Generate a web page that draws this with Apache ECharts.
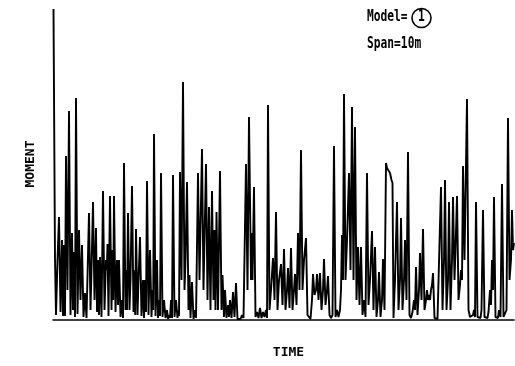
<!DOCTYPE html>
<html>
<head>
<meta charset="utf-8">
<script src="https://cdn.jsdelivr.net/npm/echarts@6/dist/echarts.min.js"></script>
<style>html,body{margin:0;padding:0;background:#fff;}#c{width:515px;height:366px;}</style>
</head>
<body>
<div id="c"></div>
<script>
// time in samples (arbitrary units), moment in arbitrary units
const times = [
0.5,2,3,4.5,6,7.5,9,10,11,12,13,14.5,16,17.5,19,20,21,22,23,24.5,26,27.5,29,30.5,32,33.5,36,37.5,38.5,40,
41.5,43,44,45,46,47,48.5,50,51.5,53,53.8,54.5,55.5,57,58.5,59.5,60.2,61,62.5,64,65,66,67.5,69,70,71,72.5,73.5,74,75,
76.5,77.5,79,80.5,81.5,82.2,83,84.5,85.5,87,88.5,90,91,92,93,94,95.5,97,98.5,99.5,100.2,101,102.5,104,105,106,107,108,109.5,111,
112.5,114,115,116,117,118,119,120,121.5,123,124.5,125,126,127,128.5,130,131.5,132.5,134,135.5,136.5,137.5,139,
140.5,142,143,145,146.5,149,150.5,153,154.5,156,157.5,159,160.5,161.5,162.5,163.5,165,167,168.5,169.5,171,172,173.5,175,176,177,178.5,180,181.5,183,
184.5,186,187.5,189,190.5,193,194.5,196,198,198.5,199.5,201,202.5,204,205.5,207,208.5,210,211.5,213,214,215,216.5,218,220,221.5,223,224.5,226,228,
229.5,231,232.5,234,235,236.5,238,239.5,241,242,243.5,245,246.5,248,249.5,251,253,254.5,256,257.5,259,260,261.5,263,264,265.5,267,268.5,270,271,
272.5,274,275,276.5,278,279.5,281,282.5,284,285.5,287,288,289,290,291,292.5,294,296,297.5,299,300.5,302,303.5,305,306.5,308,309.5,311,312.5,314,
315.5,317,319,320.5,322,323.5,325,326,327.5,329,330,331.5,333,334,335,336,337,338.5,339.5,340.5,342,344,345.5,347,348,349.5,351,352,353.5,355,
356.5,358,359.5,361,362,363,364.5,366,367,368.5,370,371.5,373,374,375,376,377,378,379,380,381.5,383,384.5,386,388,389.5,391,392,393.5,395,
396,397.5,399,400,401.5,402.5,404,405.5,407,408,409,410,411.5,414,415.5,417,418.5,420,421,422,423,424.5,426,427.5,428.5,430,431.5,433,
434.5,435.5,437,438,439,440,441,442.5,444,445,446,447.5,449,450.5,452,453.5,455,456.5,458,459,460,461
];
const moments = [
311,60,5,60,103,8,80,4,75,4,164,30,209,5,87,10,68,3,222,6,90,20,75,3,27,2,107,10,50,118,
20,92,8,60,5,63,3,129,10,60,50,76,4,124,10,70,20,124,8,60,15,60,3,20,2,157,10,50,10,107,
10,40,134,8,50,5,91,5,40,83,4,40,2,40,8,139,5,70,3,30,10,186,4,60,2,20,4,147,3,20,
2,10,1,5,2,20,2,145,3,20,2,10,4,148,40,238,30,60,138,10,45,2,38,
1,10,2,147,40,171,30,156,20,113,10,129,20,90,10,108,10,149,10,45,3,30,2,15,3,20,2,28,3,37,
1,3,1,5,2,156,30,203,40,87,40,133,3,8,2,12,2,8,3,10,2,215,10,30,62,20,108,10,40,56,
15,71,10,30,52,12,72,10,30,46,15,87,30,170,30,60,82,5,3,1,20,46,25,30,46,20,47,10,30,61,
15,30,44,5,2,5,174,3,10,3,10,30,85,40,226,40,80,147,50,213,40,193,20,73,15,73,5,20,3,147,
15,40,89,10,73,3,20,48,3,20,61,10,157,152,150,153,147,140,137,2,40,118,10,40,102,10,40,80,20,168,
5,2,8,20,10,53,5,30,67,20,91,10,20,30,20,25,20,30,35,47,2,2,1,3,133,10,60,140,10,40,
118,10,60,123,40,70,124,20,35,50,40,154,60,221,10,3,2,5,10,3,118,3,5,2,10,110,3,5,
2,8,30,15,60,30,123,3,5,2,10,3,136,3,5,10,202,40,60,110,70,77
];

const data = times.map((t, i) => [t, moments[i]]);

const chart = echarts.init(document.getElementById('c'), null, {renderer: 'canvas'});
const monoFont = '"DejaVu Sans Mono", "Liberation Mono", monospace';
chart.setOption({
  backgroundColor: '#fff',
  animation: false,
  grid: {left: 53, right: 1, top: 8, bottom: 46},
  xAxis: {
    type: 'value', min: 0, max: 461,
    name: 'TIME', nameLocation: 'middle', nameGap: 26,
    nameTextStyle: {color: '#000', fontFamily: monoFont, fontSize: 13, fontWeight: 'bold', padding: [0, 0, 0, 10]},
    axisLine: {show: true, lineStyle: {color: '#000', width: 1.5}},
    axisTick: {show: false}, axisLabel: {show: false}, splitLine: {show: false}
  },
  yAxis: {
    type: 'value', min: 0, max: 312,
    name: 'MOMENT', nameLocation: 'middle', nameGap: 16,
    nameTextStyle: {color: '#000', fontFamily: monoFont, fontSize: 13, fontWeight: 'bold'},
    axisLine: {show: false}, axisTick: {show: false}, axisLabel: {show: false}, splitLine: {show: false}
  },
  series: [{
    type: 'line', data: data, symbol: 'none',
    lineStyle: {color: '#000', width: 1.9}
  }],
  graphic: [
    {type: 'text', x: 367, y: 10, scaleX: 0.75, style: {text: 'Model=', font: 'bold 15px ' + monoFont, fill: '#000'}},
    {type: 'circle', shape: {cx: 421.5, cy: 18, r: 9.5}, style: {fill: 'none', stroke: '#000', lineWidth: 1.6}},
    {type: 'text', x: 418, y: 10, scaleX: 0.75, style: {text: '1', font: 'bold 15px ' + monoFont, fill: '#000'}},
    {type: 'text', x: 367, y: 37, scaleX: 0.75, style: {text: 'Span=10m', font: 'bold 15px ' + monoFont, fill: '#000'}}
  ]
});
</script>
</body>
</html>
